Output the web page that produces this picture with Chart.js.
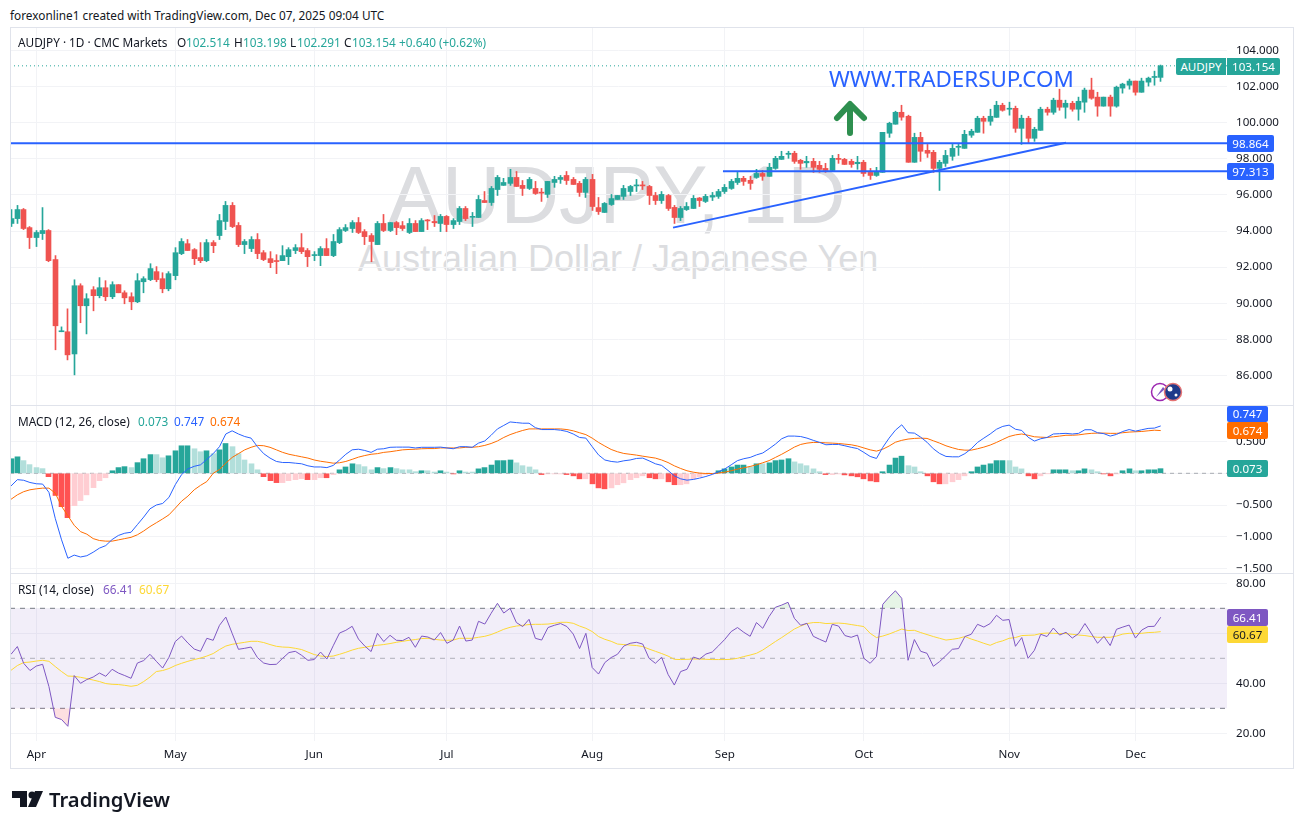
<!DOCTYPE html>
<html>
<head>
<meta charset="utf-8">
<title>AUDJPY 1D</title>
<script src="https://cdn.jsdelivr.net/npm/chart.js@4/dist/chart.umd.min.js"></script>
<style>
    html, body { margin: 0; padding: 0; background: #fff; }
    body { width: 1304px; height: 829px; position: relative; overflow: hidden; font-family: "Noto Sans", sans-serif; color: #131722; font-size: 11.8px; }
    canvas { position: absolute; left: 10px; }
    .t { position: absolute; white-space: nowrap; line-height: 16px; }
    .tag { position: absolute; color: #fff; font-size: 11.6px; text-align: center; border-radius: 2px; }
    .wm { position: absolute; white-space: nowrap; font-family: "Liberation Sans", sans-serif; color: #dcdde0; }
    .rule { position: absolute; background: #e0e3eb; }
</style>
</head>
<body>

<div class="wm" style="left:388px;top:149px;font-size:81px;line-height:92px;">AUDJPY, 1D</div>
<div class="wm" style="left:358px;top:238px;font-size:36px;line-height:42px;">Australian Dollar / Japanese Yen</div>

<canvas id="priceChart" width="1284" height="378" style="top:28px"></canvas>
<canvas id="macdChart" width="1284" height="167" style="top:406px"></canvas>
<canvas id="rsiChart" width="1284" height="194" style="top:574px"></canvas>

<div class="rule" style="left:10px;top:27px;width:1284px;height:1px"></div>
<div class="rule" style="left:10px;top:405px;width:1284px;height:1px"></div>
<div class="rule" style="left:10px;top:573px;width:1284px;height:1px"></div>
<div class="rule" style="left:10px;top:768px;width:1284px;height:1px"></div>
<div class="rule" style="left:10px;top:27px;width:1px;height:742px"></div>
<div class="rule" style="left:1293px;top:27px;width:1px;height:742px"></div>

<div class="t" style="left:10px;top:7px;">forexonline1 created with TradingView.com, Dec 07, 2025 09:04 UTC</div>

<div class="t" style="left:18px;top:34px;">AUDJPY · 1D · CMC Markets</div>
<div class="t" style="left:177px;top:34px;">O</div><div class="t" style="left:186px;top:34px;color:#26a69a">102.514</div>
<div class="t" style="left:234px;top:34px;">H</div><div class="t" style="left:243px;top:34px;color:#26a69a">103.198</div>
<div class="t" style="left:290px;top:34px;">L</div><div class="t" style="left:297px;top:34px;color:#26a69a">102.291</div>
<div class="t" style="left:344px;top:34px;">C</div><div class="t" style="left:352px;top:34px;color:#26a69a">103.154</div>
<div class="t" style="left:399px;top:34px;color:#26a69a">+0.640 (+0.62%)</div>

<div class="t" style="left:18px;top:413px;">MACD (12, 26, close)</div>
<div class="t" style="left:138px;top:413px;color:#26a69a">0.073</div>
<div class="t" style="left:174px;top:413px;color:#2962ff">0.747</div>
<div class="t" style="left:210px;top:413px;color:#ff6d00">0.674</div>

<div class="t" style="left:18px;top:581px;">RSI (14, close)</div>
<div class="t" style="left:103px;top:581px;color:#7e57c2">66.41</div>
<div class="t" style="left:139px;top:581px;color:#fdd835">60.67</div>

<div class="t" style="left:829px;top:64px;font-size:22.4px;line-height:30px;color:#2962ff;">WWW.TRADERSUP.COM</div>

<svg style="position:absolute;left:0;top:0" width="1304" height="829">
    <!-- drawing tool arrow -->
    <path d="M850 133 V105 M837 118 L850 104 L864 118" fill="none" stroke="#2e8f4f" stroke-width="6" stroke-linecap="round" stroke-linejoin="round"/>
    <!-- news and flag badges -->
    <circle cx="1160" cy="392" r="8.5" fill="#fff" stroke="#9c27b0" stroke-width="1.5"/>
    <path d="M1156 397 L1163 387 L1165 389 Z" fill="#7e57c2"/>
    <circle cx="1173" cy="392" r="8.5" fill="#1e3a8a" stroke="#e57373" stroke-width="1.5"/>
    <circle cx="1170" cy="389" r="2.5" fill="#fff"/>
    <circle cx="1176" cy="395" r="1.5" fill="#fff"/>
    <!-- TradingView logo -->
    <path d="M12 791 H27 V807 H20 V798 H12 Z M28 807 L35 791 H43 L36 807 Z" fill="#131722"/>
    <circle cx="32" cy="795" r="3.5" fill="#131722"/>
</svg>
<div class="t" style="left:49px;top:786px;font-size:20.2px;line-height:26px;font-weight:600;">TradingView</div>

<div class="tag" style="left:1176px;top:58px;width:50px;height:17px;line-height:17px;background:#26a69a;border-radius:2px 0 0 2px">AUDJPY</div>
<div class="tag" style="left:1227px;top:58px;width:53px;height:17px;line-height:17px;background:#26a69a;border-radius:0 2px 2px 0">103.154</div>
<div class="tag" style="left:1227px;top:135px;width:47px;height:17px;line-height:17px;background:#2962ff">98.864</div>
<div class="tag" style="left:1227px;top:163px;width:47px;height:17px;line-height:17px;background:#2962ff">97.313</div>
<div class="tag" style="left:1227px;top:406px;width:41px;height:16px;line-height:16px;background:#2962ff">0.747</div>
<div class="tag" style="left:1227px;top:422px;width:41px;height:17px;line-height:17px;background:#ff6d00">0.674</div>
<div class="tag" style="left:1227px;top:460px;width:41px;height:17px;line-height:17px;background:#26a69a">0.073</div>
<div class="tag" style="left:1227px;top:609px;width:41px;height:17px;line-height:17px;background:#7e57c2">66.41</div>
<div class="tag" style="left:1227px;top:626px;width:41px;height:17px;line-height:17px;background:#fdd835;color:#131722">60.67</div>

<script>
// daily candles (first bar is 26 Mar)
const opens = [
    94.42,94.69,95.19,94.19,93.64,93.86,94.03,92.42,88.42,88.42,
    87.19,90.97,89.86,90.75,90.42,90.86,90.36,91.03,90.58,90.36,
    90.08,91.19,91.31,91.75,91.36,90.80,91.53,92.75,93.30,92.97,
    92.53,92.36,93.36,93.75,94.53,95.42,94.31,93.25,93.03,93.53,
    92.80,92.47,92.36,92.36,92.58,92.92,93.08,92.92,92.64,92.64,
    93.03,92.64,93.36,94.03,94.14,94.47,93.97,93.75,93.25,94.42,
    94.03,94.47,94.30,93.92,94.42,93.97,94.60,94.53,94.42,94.81,
    94.36,94.53,95.25,94.76,94.75,95.69,95.58,96.30,96.53,96.64,
    96.97,96.53,96.36,96.36,96.14,96.03,96.69,96.86,97.08,96.86,
    96.64,96.14,96.86,95.30,95.03,95.47,95.75,95.92,96.19,96.50,
    96.53,96.47,95.97,95.69,95.97,95.31,94.75,95.19,95.25,95.83,
    95.64,95.88,95.92,96.19,96.36,96.69,96.92,96.81,96.97,97.19,
    97.03,97.47,97.97,98.25,98.31,97.92,97.78,97.86,97.64,97.47,
    97.36,98.00,97.97,97.86,97.73,97.81,97.25,97.08,97.25,99.42,
    99.92,100.58,100.36,97.81,99.19,98.47,98.36,97.47,97.75,98.14,
    98.64,98.58,99.31,99.47,100.25,100.08,100.30,100.97,100.75,100.80,
    99.69,100.25,99.14,99.58,100.75,100.58,101.25,100.86,101.08,100.75,
    101.14,101.81,101.42,100.92,101.42,100.92,101.92,102.08,102.31,101.69,
    102.25,102.51,102.514
];
const highs = [
    95.19,95.42,95.25,94.25,94.03,95.30,94.08,92.64,88.69,89.69,
    91.30,91.08,90.53,90.92,91.42,91.25,91.19,91.03,90.69,90.58,
    91.64,91.47,92.19,92.03,91.69,91.75,93.08,93.58,93.53,93.03,
    93.36,93.53,93.47,94.92,95.64,95.58,94.47,93.53,93.69,93.86,
    92.92,92.86,92.69,93.19,93.08,93.25,93.86,93.03,92.86,93.14,
    93.58,93.81,94.19,94.36,94.58,94.75,94.08,93.86,94.53,94.92,
    94.47,94.53,94.53,94.69,94.58,94.69,94.64,94.86,94.92,94.86,
    94.69,95.36,95.36,95.03,95.97,96.19,96.47,97.08,96.92,97.42,
    97.30,96.80,96.97,96.75,96.36,96.75,97.03,97.08,97.30,96.97,
    96.75,96.97,97.14,95.86,95.58,96.03,95.97,96.53,96.53,96.86,
    96.75,96.53,96.14,96.19,96.03,95.42,95.36,95.58,95.97,95.86,
    96.03,96.14,96.31,96.58,96.86,97.25,97.03,97.03,97.42,97.36,
    97.75,98.14,98.42,98.42,98.42,97.97,98.14,98.03,97.86,97.75,
    98.19,98.25,98.03,97.97,98.14,97.92,97.47,97.53,99.47,100.03,
    100.64,100.97,100.42,99.42,99.47,98.80,98.47,97.92,98.47,98.80,
    98.80,99.58,99.64,100.36,100.36,100.75,101.19,101.08,101.14,100.92,
    100.42,100.36,99.75,100.86,100.86,101.36,101.86,101.25,101.19,101.42,
    101.92,102.47,101.69,101.42,101.53,102.03,102.19,102.42,102.31,102.47,
    102.53,102.86,103.198
];
const lows = [
    94.25,94.42,94.08,93.03,93.14,93.53,92.30,87.42,88.42,86.86,
    86.03,88.92,88.30,89.58,90.30,90.14,90.25,90.58,89.97,89.64,
    90.03,90.58,91.25,91.19,90.58,90.69,91.30,92.69,92.92,92.14,
    92.25,92.30,92.80,93.53,94.08,94.19,93.14,92.75,92.86,92.47,
    92.36,91.97,91.64,92.36,92.14,92.75,92.75,92.03,92.36,92.08,
    92.64,92.58,93.30,93.97,93.92,93.86,93.25,92.30,93.25,93.97,
    93.97,93.80,94.03,93.86,93.97,93.97,94.08,94.25,93.97,93.97,
    94.14,94.36,94.58,94.25,94.75,95.58,95.42,95.97,96.53,96.53,
    96.47,95.97,96.30,96.03,95.64,95.86,96.42,96.64,96.58,96.58,
    95.92,95.86,95.14,94.92,95.03,95.42,95.75,95.75,95.97,96.19,
    96.30,95.47,95.47,95.53,95.14,94.42,94.58,95.14,95.25,95.36,
    95.58,95.69,95.81,96.08,96.31,96.58,96.53,96.31,96.92,96.81,
    97.03,97.42,97.97,98.03,97.75,97.42,97.53,97.25,97.25,97.25,
    97.31,97.75,97.69,97.53,97.42,97.03,96.86,97.03,97.25,99.19,
    99.92,100.14,97.81,97.81,97.86,98.08,97.25,96.25,97.58,97.92,
    98.19,98.58,99.19,99.47,99.42,99.86,100.30,100.64,100.42,99.47,
    98.80,98.86,98.97,99.58,100.42,100.47,100.69,100.25,100.64,100.14,
    100.58,101.30,100.36,100.92,100.36,100.86,101.64,101.86,101.53,101.69,
    102.03,102.08,102.291
];
const closes = [
    94.69,95.19,94.14,93.64,93.92,94.03,92.36,88.75,88.47,87.14,
    90.97,89.86,90.25,90.42,90.86,90.36,91.03,90.58,90.30,90.08,
    91.25,91.36,91.92,91.31,90.80,91.64,92.80,93.42,92.92,92.47,
    92.36,93.36,93.19,94.58,95.42,94.25,93.25,93.42,93.53,92.75,
    92.42,92.25,92.31,92.64,92.97,93.08,92.86,92.58,92.69,93.03,
    92.64,93.42,94.08,94.19,94.47,93.92,93.69,93.42,94.42,94.03,
    94.47,94.19,94.14,94.42,93.97,94.58,94.56,94.46,94.81,94.36,
    94.58,95.25,94.69,94.80,95.75,95.58,96.36,96.97,96.69,96.97,
    96.47,96.36,96.86,96.08,96.10,96.75,96.86,96.97,96.80,96.58,
    96.14,96.86,95.36,95.08,95.53,95.80,95.97,96.36,96.47,96.53,
    96.50,95.97,95.69,96.03,95.25,94.75,95.25,95.36,95.81,95.69,
    95.92,95.97,96.19,96.42,96.75,96.92,96.75,96.64,97.19,97.03,
    97.53,98.03,98.14,98.31,97.86,97.75,97.86,97.53,97.42,97.36,
    98.03,97.97,97.69,97.69,97.81,97.19,97.08,97.31,99.47,99.97,
    100.58,100.31,97.81,99.19,98.42,98.31,97.47,97.81,98.19,98.58,
    98.67,99.36,99.53,100.25,100.08,100.36,100.97,100.69,100.78,99.69,
    100.25,99.14,99.64,100.75,100.58,101.25,100.86,101.08,100.75,101.19,
    101.81,101.36,100.92,101.42,100.92,101.97,102.14,102.31,101.69,102.31,
    102.47,102.55,103.154
];

const macdHist = [
    0.23,0.26,0.20,0.137,0.09,0.074,-0.053,-0.35,-0.526,-0.70,
    -0.51,-0.43,-0.34,-0.226,-0.116,-0.07,0.04,0.09,0.105,0.09,
    0.168,0.23,0.295,0.295,0.245,0.276,0.355,0.434,0.434,0.387,
    0.34,0.355,0.31,0.37,0.47,0.42,0.31,0.21,0.15,0.055,
    -0.053,-0.116,-0.147,-0.147,-0.116,-0.10,-0.084,-0.10,-0.10,-0.07,
    -0.07,-0.02,0.055,0.10,0.15,0.137,0.105,0.055,0.09,0.074,
    0.09,0.074,0.055,0.055,0.026,0.04,0.04,0.02,0.04,0.02,
    -0.01,0.04,0.02,0.02,0.07,0.09,0.13,0.20,0.20,0.21,
    0.165,0.12,0.10,0.055,-0.02,-0.01,-0.01,-0.01,-0.02,-0.04,
    -0.087,-0.087,-0.166,-0.23,-0.245,-0.23,-0.18,-0.15,-0.10,-0.07,
    -0.04,-0.07,-0.087,-0.087,-0.134,-0.18,-0.18,-0.166,-0.087,-0.055,
    -0.02,-0.01,0.04,0.07,0.10,0.13,0.13,0.10,0.15,0.15,
    0.165,0.20,0.21,0.23,0.18,0.15,0.12,0.07,0.025,-0.02,
    -0.02,-0.01,-0.025,-0.04,-0.055,-0.087,-0.12,-0.134,0.025,0.13,
    0.24,0.27,0.12,0.10,0.025,-0.04,-0.134,-0.166,-0.166,-0.134,
    -0.10,-0.04,0.025,0.10,0.13,0.15,0.20,0.20,0.20,0.10,
    0.07,-0.04,-0.087,-0.04,-0.005,0.055,0.055,0.055,0.04,0.04,
    0.07,0.055,0.025,-0.01,-0.04,-0.01,0.04,0.07,0.04,0.04,
    0.055,0.055,0.073
];
// D = strong colour, L = pale colour
const histShades = [
    'DDLLLLDDDD','LLLLLLDDDL','DDDLLDDDDL','LDLDDLLLLL','DDDLLLLDLL',
    'DLDDDLLLDL','DLLLLDLLDL','DDLLDDDDDD','LLLLDLLLDD','DLDDDLLLLL',
    'LDDLDDLLLL','LLDDDDDLDL','DDDDLLLLLD','LLDDDDDDDD','DDLLLDDDLL',
    'LLDDDDDDLL','LDDLLDDDLD','DLLDDLDDLD','DDD'
].join('');
const macdLine = [
    -0.20,-0.10,-0.11,-0.145,-0.165,-0.17,-0.30,-0.71,-1.05,-1.34,
    -1.29,-1.32,-1.30,-1.245,-1.18,-1.14,-1.045,-0.98,-0.945,-0.93,
    -0.81,-0.69,-0.56,-0.50,-0.476,-0.38,-0.18,-0.02,0.07,0.11,
    0.134,0.22,0.31,0.42,0.62,0.67,0.62,0.58,0.555,0.42,
    0.31,0.24,0.187,0.17,0.17,0.16,0.15,0.118,0.10,0.10,
    0.09,0.124,0.21,0.30,0.37,0.38,0.36,0.33,0.38,0.387,
    0.41,0.413,0.413,0.413,0.40,0.41,0.41,0.41,0.413,0.40,
    0.387,0.42,0.42,0.41,0.476,0.51,0.60,0.70,0.755,0.81,
    0.80,0.79,0.79,0.72,0.69,0.69,0.69,0.68,0.66,0.62,
    0.565,0.555,0.42,0.29,0.21,0.187,0.176,0.197,0.21,0.234,
    0.24,0.197,0.15,0.124,0.045,-0.04,-0.087,-0.108,-0.097,-0.076,
    -0.05,-0.018,0.024,0.07,0.134,0.20,0.23,0.25,0.29,0.32,
    0.387,0.46,0.545,0.587,0.587,0.58,0.555,0.52,0.487,0.45,
    0.455,0.455,0.434,0.41,0.39,0.33,0.266,0.234,0.41,0.555,
    0.68,0.765,0.64,0.634,0.57,0.49,0.387,0.313,0.266,0.26,
    0.26,0.31,0.387,0.487,0.555,0.62,0.695,0.74,0.76,0.695,
    0.676,0.57,0.508,0.545,0.565,0.62,0.625,0.63,0.62,0.63,
    0.687,0.687,0.64,0.625,0.587,0.613,0.66,0.69,0.665,0.687,
    0.708,0.713,0.747
];
const signalLine = [
    -0.41,-0.34,-0.29,-0.26,-0.245,-0.234,-0.234,-0.313,-0.52,-0.67,
    -0.82,-0.92,-0.96,-1.03,-1.06,-1.07,-1.07,-1.05,-1.03,-1.01,
    -0.97,-0.91,-0.84,-0.78,-0.72,-0.655,-0.55,-0.44,-0.36,-0.26,
    -0.19,-0.13,0.0,0.06,0.16,0.25,0.31,0.37,0.41,0.44,
    0.435,0.41,0.37,0.33,0.30,0.28,0.26,0.24,0.21,0.19,
    0.176,0.16,0.166,0.187,0.22,0.255,0.28,0.30,0.31,0.33,
    0.34,0.355,0.37,0.376,0.38,0.387,0.39,0.39,0.40,0.40,
    0.40,0.40,0.41,0.41,0.42,0.44,0.47,0.51,0.565,0.61,
    0.645,0.676,0.70,0.70,0.70,0.70,0.70,0.70,0.69,0.67,
    0.64,0.61,0.555,0.487,0.43,0.376,0.34,0.313,0.30,0.287,
    0.27,0.255,0.24,0.21,0.17,0.118,0.076,0.04,0.018,0.003,
    -0.003,-0.003,0.003,0.018,0.04,0.066,0.087,0.108,0.134,0.166,
    0.20,0.25,0.30,0.355,0.413,0.455,0.476,0.487,0.487,0.48,
    0.476,0.47,0.46,0.45,0.43,0.40,0.37,0.35,0.38,0.43,
    0.49,0.52,0.54,0.55,0.555,0.55,0.513,0.476,0.434,0.403,
    0.376,0.365,0.365,0.387,0.413,0.445,0.487,0.534,0.58,0.606,
    0.62,0.60,0.576,0.57,0.565,0.576,0.587,0.60,0.60,0.606,
    0.62,0.63,0.634,0.634,0.63,0.63,0.64,0.65,0.655,0.66,
    0.67,0.68,0.674
];

const rsiLine = [
    51.6,54.7,48.0,45.1,46.9,47.6,38.7,26.4,25.5,22.8,
    43.1,40.0,41.5,42.5,44.1,42.8,45.6,44.1,43.1,42.0,
    48.1,49.1,51.6,48.8,46.1,50.4,56.7,58.9,56.1,53.7,
    52.8,58.0,57.2,63.2,66.5,60.0,53.6,54.0,54.5,50.3,
    48.1,47.5,47.6,50.0,52.3,52.8,51.2,49.2,49.5,52.5,
    49.7,55.0,60.1,61.2,62.8,57.7,54.9,52.7,60.0,56.7,
    59.2,57.2,57.1,58.4,54.4,58.9,58.5,57.3,60.3,56.0,
    57.3,62.9,56.9,57.3,64.8,63.7,68.0,72.0,68.1,70.0,
    64.3,62.7,65.6,58.0,57.3,62.3,63.2,63.9,62.7,59.7,
    53.9,60.0,46.3,43.7,48.3,50.3,51.6,54.9,56.0,56.4,
    55.7,50.0,48.0,50.4,43.6,39.3,44.7,45.6,50.5,49.7,
    51.7,52.5,55.0,57.6,60.7,62.3,60.4,58.8,64.3,62.0,
    66.7,70.4,71.3,72.4,66.0,63.2,64.0,58.8,57.6,56.5,
    63.6,62.9,59.1,58.4,59.3,50.0,48.0,50.7,71.6,74.5,
    77.0,74.0,49.2,57.5,52.8,52.0,46.8,48.7,51.1,53.6,
    53.9,58.7,59.6,63.6,62.5,63.9,67.2,65.2,65.5,54.8,
    58.3,50.0,53.2,59.6,58.7,62.1,59.3,60.4,58.1,59.9,
    63.9,60.0,56.0,58.8,55.1,61.6,62.5,63.3,58.1,61.3,
    62.7,62.8,66.41
];
const rsiAverage = [
    45.2,47.1,48.3,48.5,48.9,49.2,48.8,46.7,44.7,42.9,
    42.8,42.4,41.9,41.3,40.7,39.9,39.6,39.5,39.2,38.8,
    39.2,40.7,42.5,44.7,45.1,45.9,47.1,48.0,48.8,49.5,
    50.1,50.9,51.9,53.5,54.9,55.6,56.0,56.4,56.8,56.8,
    56.3,55.5,54.8,54.5,54.4,54.0,53.5,52.5,51.5,50.9,
    50.7,50.9,51.6,52.4,53.3,54.0,54.4,54.9,55.2,55.5,
    55.9,56.4,56.8,57.2,57.5,57.9,58.0,57.6,57.3,57.2,
    57.3,58.0,58.0,58.0,58.4,58.8,59.5,60.5,61.6,62.4,
    62.9,63.2,63.5,63.6,63.6,63.7,64.0,64.4,64.4,64.0,
    62.9,62.0,60.7,58.7,57.6,56.8,55.7,55.5,55.3,55.1,
    54.7,53.7,52.8,51.9,50.9,49.6,49.5,49.6,49.7,49.7,
    49.6,49.5,49.5,49.5,49.6,50.0,50.7,51.3,52.0,53.3,
    55.0,56.7,58.3,60.0,61.7,62.9,63.9,64.3,64.3,63.9,
    64.0,64.1,63.9,63.5,63.1,62.7,60.0,58.3,58.9,59.7,
    60.7,61.7,61.1,61.2,60.3,59.5,58.7,58.0,57.3,57.6,
    58.0,58.7,57.7,56.9,56.0,55.2,56.3,57.0,58.0,58.3,
    59.1,59.2,59.3,59.9,60.1,60.0,59.9,59.9,59.6,59.3,
    59.1,58.7,58.4,58.4,58.4,58.9,59.7,60.0,59.9,60.0,
    60.3,60.4,60.67
];

// month ticks, as bar numbers
const monthLabels = ['Apr', 'May', 'Jun', 'Jul', 'Aug', 'Sep', 'Oct', 'Nov', 'Dec'];
const monthBars = [4, 26, 48, 69, 92, 113, 135, 158, 178];

const priceTicks = [86, 88, 90, 92, 94, 96, 98, 100, 102, 104];
const macdTicks = [-1.5, -1, -0.5, 0, 0.5];
const macdTickLabels = ['\u22121.500', '\u22121.000', '\u22120.500', '', '0.500'];
const rsiTicks = [20, 40, 60, 80];

// horizontal lines and the trend line from the drawing tools
const lastClose = 103.154;
const upperLevel = 98.864;
const lowerLevel = 97.313;
const lowerLevelStartBar = 112.7;
const trendBars = [104.8, 167];
const trendPrices = [94.19, 98.89];
const rsiBands = [70, 50, 30];

// visible bar range of the time axis
const firstBar = -0.163;
const lastBar = 192.49;

const UP = '#26a69a';
const DOWN = '#ef5350';
const GRID = '#f2f3f6';
const AXIS_FONT = { family: '"Noto Sans", sans-serif', size: 11.6 };

function timeScale(showLabels) {
    return {
        type: 'linear',
        min: firstBar,
        max: lastBar,
        offset: false,
        afterBuildTicks: function (scale) {
            scale.ticks = monthBars.map(function (b) { return { value: b }; });
        },
        afterFit: function (scale) {
            scale.height = showLabels ? 27 : 0;
            scale.paddingLeft = 0;
            scale.paddingRight = 0;
        },
        grid: { color: GRID, offset: false, drawTicks: false },
        border: { display: false },
        ticks: {
            display: showLabels,
            autoSkip: false,
            maxRotation: 0,
            padding: 7,
            color: '#131722',
            font: AXIS_FONT,
            callback: function (value, index) { return monthLabels[index]; }
        }
    };
}

function valueScale(min, max, tickValues, format) {
    return {
        position: 'right',
        min: min,
        max: max,
        afterBuildTicks: function (scale) {
            scale.ticks = tickValues.map(function (v) { return { value: v }; });
        },
        afterFit: function (scale) {
            scale.width = 67;
            // the axis would otherwise shrink the pane to make room for half a label
            scale.paddingTop = 0;
            scale.paddingBottom = 0;
        },
        grid: { color: GRID, drawTicks: false },
        border: { display: false },
        ticks: {
            autoSkip: false,
            padding: 9,
            crossAlign: 'near',
            color: '#131722',
            font: AXIS_FONT,
            callback: format
        }
    };
}

function lineSet(points, color, width, dash, order) {
    return {
        type: 'line',
        data: points,
        borderColor: color,
        borderWidth: width,
        borderDash: dash || [],
        pointRadius: 0,
        tension: 0,
        fill: false,
        order: order
    };
}

function series(values) {
    return values.map(function (v, i) { return { x: i, y: v }; });
}

function level(value, fromBar) {
    return [{ x: fromBar, y: value }, { x: lastBar, y: value }];
}

// keep bars on whole pixels so they stay sharp like the original
const snapBars = {
    id: 'snapBars',
    afterDatasetsUpdate: function (chart) {
        chart.getSortedVisibleDatasetMetas().forEach(function (meta) {
            if (meta.type !== 'bar') return;
            meta.data.forEach(function (bar, i) {
                bar.x = Math.floor(meta.iScale.getPixelForValue(i)) + 0.5;
            });
        });
    }
};

const commonOptions = {
    responsive: false,
    animation: false,
    devicePixelRatio: 1,
    layout: { padding: 0 },
    plugins: { legend: { display: false }, tooltip: { enabled: false } }
};

const candleColors = closes.map(function (c, i) { return c >= opens[i] ? UP : DOWN; });

new Chart(document.getElementById('priceChart'), {
    type: 'bar',
    plugins: [snapBars],
    data: {
        datasets: [
            lineSet(level(lastClose, firstBar), UP, 1, [1, 3], 0),
            lineSet(level(upperLevel, firstBar), '#2962ff', 2, null, 0),
            lineSet(level(lowerLevel, lowerLevelStartBar), '#2962ff', 2, null, 0),
            lineSet([
                { x: trendBars[0], y: trendPrices[0] },
                { x: trendBars[1], y: trendPrices[1] }
            ], '#2962ff', 2, null, 0),
            {
                data: opens.map(function (o, i) { return { x: i, y: [o, closes[i]] }; }),
                backgroundColor: candleColors,
                barThickness: 5,
                minBarLength: 1,
                grouped: false,
                order: 1
            },
            {
                data: lows.map(function (l, i) { return { x: i, y: [l, highs[i]] }; }),
                backgroundColor: candleColors,
                barThickness: 1,
                grouped: false,
                order: 2
            }
        ]
    },
    options: Object.assign({}, commonOptions, {
        scales: {
            x: timeScale(false),
            y: valueScale(84.306, 105.25, priceTicks, function (v) { return v.toFixed(3); })
        }
    })
});

new Chart(document.getElementById('macdChart'), {
    type: 'bar',
    plugins: [snapBars],
    data: {
        datasets: [
            lineSet(series(macdLine), '#2962ff', 1, null, 0),
            lineSet(series(signalLine), '#ff6d00', 1, null, 0),
            lineSet(level(0, firstBar), 'rgba(120,123,134,0.6)', 1, [4, 4], 2),
            {
                data: series(macdHist),
                backgroundColor: macdHist.map(function (v, i) {
                    const strong = histShades[i] === 'D';
                    if (v >= 0) return strong ? UP : '#b2dfdb';
                    return strong ? '#ff5252' : '#ffcdd2';
                }),
                barThickness: 5,
                grouped: false,
                order: 1
            }
        ]
    },
    options: Object.assign({}, commonOptions, {
        scales: {
            x: timeScale(false),
            y: valueScale(-1.5725, 1.0615, macdTicks, function (v, i) { return macdTickLabels[i]; })
        }
    })
});

new Chart(document.getElementById('rsiChart'), {
    type: 'line',
    data: {
        datasets: [
            lineSet(series(rsiLine), '#7e57c2', 1, null, 0),
            lineSet(series(rsiAverage), '#fdd835', 1, null, 1),
            Object.assign(lineSet(series(rsiLine), 'transparent', 0, null, 2), {
                fill: { target: { value: rsiBands[0] }, above: 'rgba(76,175,80,0.14)', below: 'transparent' }
            }),
            Object.assign(lineSet(series(rsiLine), 'transparent', 0, null, 2), {
                fill: { target: { value: rsiBands[2] }, above: 'transparent', below: 'rgba(242,54,69,0.16)' }
            }),
            lineSet(level(rsiBands[1], firstBar), 'rgba(120,123,134,0.55)', 1, [5, 5], 3),
            Object.assign(lineSet(level(rsiBands[0], firstBar), '#787b86', 1, [5, 5], 3), {
                fill: { target: { value: rsiBands[2] } },
                backgroundColor: 'rgba(126,87,194,0.1)'
            }),
            lineSet(level(rsiBands[2], firstBar), '#787b86', 1, [5, 5], 3)
        ]
    },
    options: Object.assign({}, commonOptions, {
        scales: {
            x: timeScale(true),
            y: valueScale(16.92, 83.72, rsiTicks, function (v) { return v.toFixed(2); })
        }
    })
});
</script>
</body>
</html>
